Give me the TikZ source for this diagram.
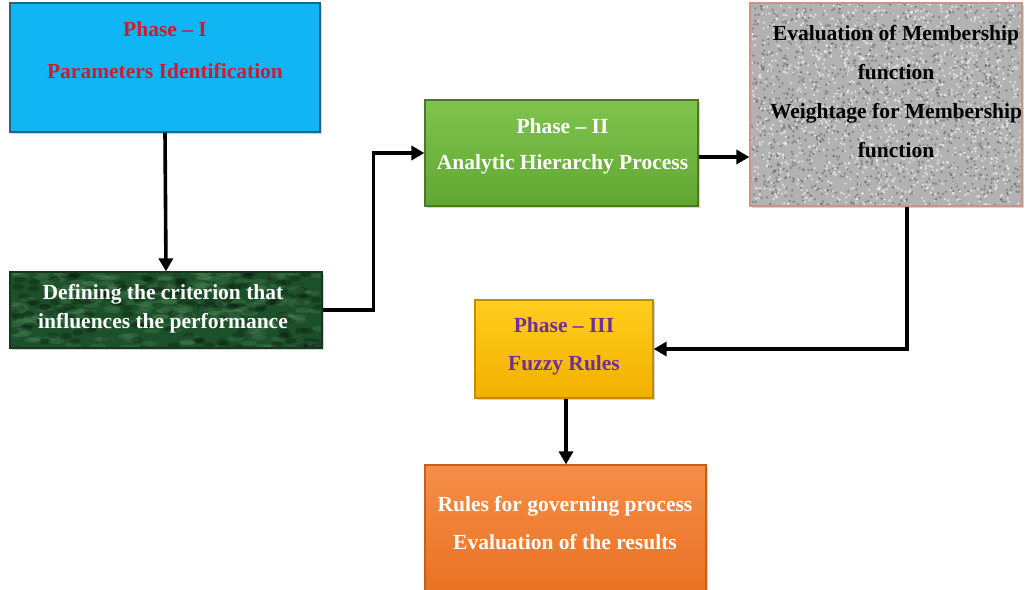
\documentclass[tikz,border=0pt]{standalone}
\usepackage{fontspec}
\setmainfont{Liberation Serif}
\usetikzlibrary{arrows.meta, positioning, shadows}
\definecolor{PhaseBlue}{RGB}{16,182,244}
\definecolor{BlueEdge}{RGB}{36,100,130}
\definecolor{PhaseRed}{RGB}{200,30,50}
\definecolor{CritGreen}{RGB}{28,80,42}
\definecolor{CritLight}{RGB}{100,150,105}
\definecolor{AHPTop}{RGB}{128,196,78}
\definecolor{AHPBot}{RGB}{96,166,48}
\definecolor{AHPEdge}{RGB}{72,122,42}
\definecolor{NoiseGray}{RGB}{178,178,178}
\definecolor{NoiseEdge}{RGB}{198,150,140}
\definecolor{FuzzyTop}{RGB}{255,206,30}
\definecolor{FuzzyBot}{RGB}{242,176,0}
\definecolor{FuzzyText}{RGB}{112,48,150}
\definecolor{ResTop}{RGB}{246,142,72}
\definecolor{ResBot}{RGB}{232,112,32}
\begin{document}
\begin{tikzpicture}[x=1pt, y=-1pt,
  box/.style={draw, line width=1.2pt, inner sep=0pt, drop shadow={shadow xshift=2pt, shadow yshift=-2pt, opacity=0.35}},
  txt/.style={font=\bfseries\fontsize{21.5}{42}\selectfont, align=center, inner sep=0pt},
  arr/.style={-{Triangle[length=13pt, width=14pt]}, line width=3.6pt}]
\useasboundingbox (0,0) rectangle (1033,589);
\node[box, draw=BlueEdge, fill=PhaseBlue, minimum width=310, minimum height=129] (p1) at (165,67.5) {};
\node[box, draw=CritGreen!70!black, fill=CritGreen, minimum width=312, minimum height=76] (crit) at (166,310) {};
\node[box, draw=AHPEdge, top color=AHPTop, bottom color=AHPBot, minimum width=273, minimum height=106] (p2) at (561.5,153) {};
\node[box, draw=NoiseEdge, fill=NoiseGray, minimum width=272, minimum height=203] (memb) at (886,104.5) {};
\node[box, draw=FuzzyBot!80!black, top color=FuzzyTop, bottom color=FuzzyBot, minimum width=178, minimum height=98] (p3) at (564,349) {};
\node[box, draw=ResBot!85!black, top color=ResTop, bottom color=ResBot, minimum width=281, minimum height=135] (res) at (565.5,532.5) {};
\pgfmathsetseed{11}
\begin{scope}
\clip (11.5,273.5) rectangle (320.5,346.5);
\foreach \i in {1,...,220} \fill[CritLight, opacity=0.22] ({10+312*rnd},{272+76*rnd}) ellipse (8 and 2.5);
\foreach \i in {1,...,160} \fill[black, opacity=0.22] ({10+312*rnd},{272+76*rnd}) ellipse (6 and 3);
\end{scope}
\begin{scope}
\clip (751.5,4.5) rectangle (1020.5,204.5);
\foreach \i in {1,...,1400} \fill[black!65, opacity=0.5] ({750+272*rnd},{3+203*rnd}) circle (1.3);
\foreach \i in {1,...,1400} \fill[white, opacity=0.55] ({750+272*rnd},{3+203*rnd}) circle (1.3);
\end{scope}
\node[txt, text=PhaseRed] (p1t) at (165,50) {Phase -- I\\Parameters Identification};
\node[txt, text=white, font=\bfseries\fontsize{21.5}{29}\selectfont] (critt) at (163,309) {Defining the criterion that\\influences the performance};
\node[txt, text=white, font=\bfseries\fontsize{21.5}{36}\selectfont] (p2t) at (562.5,146) {Phase -- II\\Analytic Hierarchy Process};
\node[txt, text=black, font=\bfseries\fontsize{21.5}{39}\selectfont] (membt) at (896,92) {Evaluation of Membership\\function\\Weightage for Membership\\function};
\node[txt, text=FuzzyText, font=\bfseries\fontsize{21.5}{38}\selectfont] (p3t) at (564,346) {Phase -- III\\Fuzzy Rules};
\node[txt, text=white, font=\bfseries\fontsize{21.5}{38}\selectfont] (rest) at (565,523) {Rules for governing process\\Evaluation of the results};
\draw[arr] (p1.south) -- (crit.north);
\draw[arr] (crit.east) -- ++(51,0) |- (p2.west);
\draw[arr] ([yshift=-4pt]p2.east) -- ([yshift=-4pt]p2.east -| memb.west);
\draw[arr] ([xshift=21pt]memb.south) |- (p3.east);
\draw[arr] ([xshift=2pt]p3.south) -- ([xshift=2pt]p3.south |- res.north);
\end{tikzpicture}
\end{document}
